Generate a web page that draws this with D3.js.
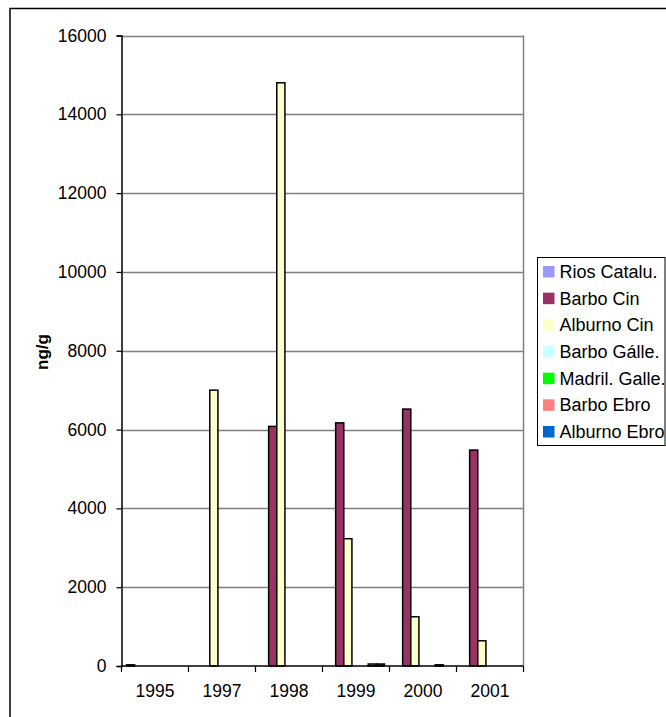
<!DOCTYPE html>
<html>
<head>
<meta charset="utf-8">
<script src="https://cdn.jsdelivr.net/npm/d3@7"></script>
<style>
  html, body { margin: 0; padding: 0; background: #fff; }
  svg { display: block; }
  text { font-family: "Liberation Sans", Arial, sans-serif; }
</style>
</head>
<body>
<svg id="chart" width="666" height="717"></svg>
<script>
// Years on the category axis
const years = ["1995", "1997", "1998", "1999", "2000", "2001"];

// Series names and fill colours
const seriesNames = ["Rios Catalu.", "Barbo Cin", "Alburno Cin", "Barbo Gálle.", "Madril. Galle.", "Barbo Ebro", "Alburno Ebro"];
const seriesColors = ["#9999FF", "#993366", "#FFFFCC", "#CCFFFF", "#00FF00", "#FF8080", "#0066CC"];

// Concentrations (ng/g) per series, one value per year (null = no data)
const riosCatalu   = [30, null, null, null, null, null];
const barboCin     = [null, null, 6080, 6170, 6520, 5480];
const alburnoCin   = [null, 7000, 14800, 3230, 1250, 640];
const barboGalle   = [null, null, null, null, null, null];
const madrilGalle  = [null, null, null, null, null, null];
const barboEbro    = [null, null, null, 50, 30, null];
const alburnoEbro  = [null, null, null, 50, null, null];

// Y axis ticks
const yTicks = [0, 2000, 4000, 6000, 8000, 10000, 12000, 14000, 16000];

const seriesValues = [riosCatalu, barboCin, alburnoCin, barboGalle, madrilGalle, barboEbro, alburnoEbro];

const svg = d3.select("#chart");

const plot = { left: 121.5, right: 523.5, top: 35.5, bottom: 666 };

// Chart area frame
svg.append("rect")
  .attr("x", 10).attr("y", 8.5)
  .attr("width", 700).attr("height", 760)
  .attr("fill", "none").attr("stroke", "#000").attr("stroke-width", 1.5);

const x0 = d3.scaleBand().domain(years).range([plot.left, plot.right]).padding(0);
const gap = 10;
const x1 = d3.scaleBand().domain(seriesNames).range([gap / 2, x0.bandwidth() - gap / 2]).padding(0);
const y = d3.scaleLinear().domain([0, 16000]).range([plot.bottom, plot.top]);

// Gridlines
svg.append("g")
  .selectAll("line")
  .data(yTicks.filter(d => d > 0))
  .join("line")
  .attr("x1", plot.left).attr("x2", plot.right)
  .attr("y1", d => Math.round(y(d)) + 0.5).attr("y2", d => Math.round(y(d)) + 0.5)
  .attr("stroke", "#808080").attr("stroke-width", 1.5);

// Right border of the plot area
svg.append("line")
  .attr("x1", plot.right).attr("x2", plot.right)
  .attr("y1", plot.top).attr("y2", plot.bottom)
  .attr("stroke", "#808080").attr("stroke-width", 1.5);

// Bars
const barData = [];
years.forEach((yr, i) => {
  seriesNames.forEach((s, j) => {
    const v = seriesValues[j][i];
    if (v != null) barData.push({ year: yr, series: s, value: v, color: seriesColors[j] });
  });
});

svg.append("g")
  .selectAll("rect")
  .data(barData)
  .join("rect")
  .attr("x", d => x0(d.year) + x1(d.series))
  .attr("y", d => y(d.value))
  .attr("width", x1.bandwidth())
  .attr("height", d => y(0) - y(d.value))
  .attr("fill", d => d.color)
  .attr("stroke", "#000")
  .attr("stroke-width", 1.5);

// Y axis
const yAxis = svg.append("g")
  .attr("transform", `translate(${plot.left},0)`)
  .call(d3.axisLeft(y).tickValues(yTicks).tickSize(5).tickPadding(10).tickFormat(d3.format("d")));
yAxis.select(".domain").attr("stroke", "#000").attr("stroke-width", 1.5);
yAxis.selectAll(".tick line").attr("stroke", "#000").attr("stroke-width", 1.2);
yAxis.selectAll(".tick text").attr("font-size", 17.5).attr("fill", "#000")
  .style("font-family", '"Liberation Sans", Arial, sans-serif');

// X axis: ticks at category boundaries, labels centered in bands
const xAxisG = svg.append("g").attr("transform", `translate(0,${plot.bottom})`);
xAxisG.append("line")
  .attr("x1", plot.left).attr("x2", plot.right)
  .attr("stroke", "#000").attr("stroke-width", 1.5);
const boundaries = years.map(d => x0(d)).concat([plot.right]);
xAxisG.selectAll("line.tk")
  .data(boundaries)
  .join("line")
  .attr("class", "tk")
  .attr("x1", d => d).attr("x2", d => d)
  .attr("y1", 0).attr("y2", 6)
  .attr("stroke", "#000").attr("stroke-width", 1.2);
xAxisG.selectAll("text")
  .data(years)
  .join("text")
  .attr("x", d => x0(d) + x0.bandwidth() / 2)
  .attr("y", 31)
  .attr("text-anchor", "middle")
  .attr("font-size", 17.5)
  .text(d => d);

// Y axis title
svg.append("text")
  .attr("transform", "translate(48,352) rotate(-90)")
  .attr("text-anchor", "middle")
  .attr("font-size", 17)
  .attr("font-weight", "bold")
  .text("ng/g");

// Legend
const legend = svg.append("g");
legend.append("rect")
  .attr("x", 537.5).attr("y", 257.5)
  .attr("width", 127.5).attr("height", 188)
  .attr("fill", "#fff").attr("stroke", "#000").attr("stroke-width", 1);
const rowY = d3.scalePoint().domain(seriesNames).range([271.5, 431.5]);
const items = legend.selectAll("g.item")
  .data(seriesNames)
  .join("g")
  .attr("class", "item")
  .attr("transform", d => `translate(0,${rowY(d)})`);
items.append("rect")
  .attr("x", 543).attr("y", -5.5)
  .attr("width", 11.5).attr("height", 11.5)
  .attr("fill", (d, i) => seriesColors[i]);
items.append("text")
  .attr("x", 559.5).attr("y", 6.5)
  .attr("font-size", 18)
  .text(d => d);
</script>
</body>
</html>
